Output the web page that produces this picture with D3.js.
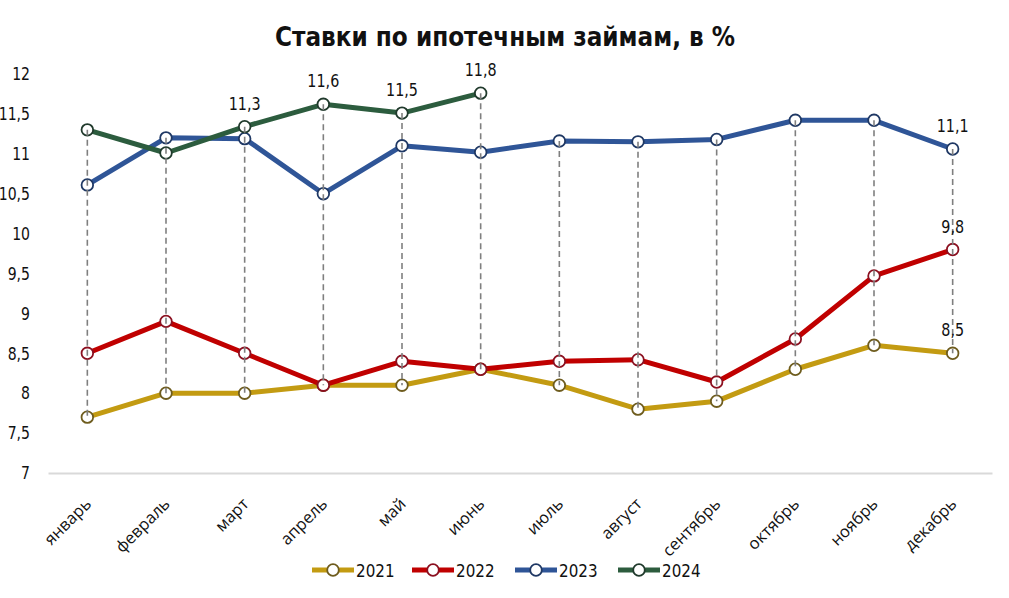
<!DOCTYPE html>
<html><head><meta charset="utf-8">
<script src="https://cdn.jsdelivr.net/npm/d3@7"></script>
<style>body{margin:0;background:#fff}svg{display:block}</style>
</head><body><svg id="c" width="1009" height="598"></svg>
<script>
const months = ["январь","февраль","март","апрель","май","июнь","июль","август","сентябрь","октябрь","ноябрь","декабрь"];
const yTicks = [7,7.5,8,8.5,9,9.5,10,10.5,11,11.5,12];
const s2021 = [7.7,8.0,8.0,8.1,8.1,8.3,8.1,7.8,7.9,8.3,8.6,8.5];
const s2022 = [8.5,8.9,8.5,8.1,8.4,8.3,8.4,8.42,8.14,8.68,9.47,9.8];
const s2023 = [10.61,11.2,11.19,10.5,11.1,11.02,11.16,11.15,11.18,11.42,11.42,11.06];
const s2024 = [11.3,11.01,11.34,11.62,11.51,11.76];
const seriesNames = ["2021","2022","2023","2024"];
const labels2024 = [null,null,"11,3","11,6","11,5","11,8"];
const endLabels = {"2021":"8,5","2022":"9,8","2023":"11,1"};

const series = [
  {name:"2021", values:s2021, color:"#C39B12", mk:"#6E5C1E"},
  {name:"2022", values:s2022, color:"#C00000", mk:"#8B1020"},
  {name:"2023", values:s2023, color:"#2F5597", mk:"#1F3864"},
  {name:"2024", values:s2024, color:"#2C5C3E", mk:"#203A2C"}
];

const cond = "'DejaVu Sans',sans-serif";
const svg = d3.select("#c");
const x = d3.scaleBand().domain(months).range([48, 992]);
const y = d3.scaleLinear().domain([7,12]).range([473, 74]);
const cx = m => x(m) + x.bandwidth()/2;

svg.append("text").attr("x",505).attr("y",46).attr("text-anchor","middle")
  .attr("font-family",cond).attr("font-weight","bold").attr("font-size",27).attr("fill","#111")
  .attr("textLength",460).attr("lengthAdjust","spacingAndGlyphs")
  .text("Ставки по ипотечным займам, в %");

// y axis labels
const ya = svg.append("g").attr("transform","translate(30,0)")
  .call(d3.axisLeft(y).tickValues(yTicks).tickSize(0).tickPadding(0)
    .tickFormat(d => String(d).replace(".",",")));
ya.select(".domain").remove();
ya.selectAll("text").attr("font-family",cond).attr("font-weight",500)
  .attr("font-size",18).attr("fill","#111").attr("transform","scale(0.78,1)");

// x axis
const xa = svg.append("g").attr("transform","translate(0,473)")
  .call(d3.axisBottom(x).tickSize(0).tickPadding(0));
xa.select(".domain").attr("stroke","#d9d9d9").attr("stroke-width",2);
xa.selectAll("text").attr("font-family","'Open Sans',sans-serif").attr("font-size",16.5)
  .attr("fill","#111").attr("text-anchor","end").attr("dy",0)
  .attr("transform","translate(5,32) rotate(-45)");

// lines
const line = d3.line().x((d,i)=>cx(months[i])).y(d=>y(d));
series.forEach(s=>{
  svg.append("path").datum(s.values).attr("fill","none").attr("stroke",s.color)
    .attr("stroke-width",5).attr("stroke-linejoin","round").attr("d",line);
});

// markers
series.forEach(s=>{
  svg.append("g").selectAll("circle").data(s.values).join("circle")
    .attr("cx",(d,i)=>cx(months[i])).attr("cy",d=>y(d)).attr("r",5.8)
    .attr("fill","#fff").attr("stroke",s.mk).attr("stroke-width",1.8);
});

// high-low drop lines
months.forEach((m,i)=>{
  const vals = series.map(s=>s.values[i]).filter(v=>v!==undefined);
  svg.append("line").attr("x1",cx(m)).attr("x2",cx(m))
    .attr("y1",y(d3.max(vals))).attr("y2",y(d3.min(vals)))
    .attr("stroke","#7f7f7f").attr("stroke-width",1.6).attr("stroke-dasharray","6,4");
});

// data labels
function label(xp, yp, t){
  svg.append("g").attr("transform",`translate(${xp},${yp}) scale(0.82,1)`)
    .append("text").attr("text-anchor","middle").attr("font-family",cond).attr("font-weight",500)
    .attr("font-size",17.5).attr("fill","#111").text(t);
}
s2024.forEach((v,i)=>{ if(labels2024[i]) label(cx(months[i]), y(v)-17, labels2024[i]); });
series.slice(0,3).forEach(s=>{ label(cx(months[11]), y(s.values[11])-17, endLabels[s.name]); });

// legend
const legX = [312, 412, 515, 618];
series.forEach((s,i)=>{
  const g = svg.append("g").attr("transform",`translate(${legX[i]},570)`);
  g.append("line").attr("x1",0).attr("x2",42).attr("stroke",s.color).attr("stroke-width",5);
  g.append("circle").attr("cx",21).attr("r",5.8).attr("fill","#fff").attr("stroke",s.mk).attr("stroke-width",1.8);
  g.append("g").attr("transform","translate(44,7) scale(0.82,1)").append("text")
    .attr("font-family",cond).attr("font-weight",500).attr("font-size",18.5)
    .attr("fill","#111").text(seriesNames[i]);
});
</script></body></html>
